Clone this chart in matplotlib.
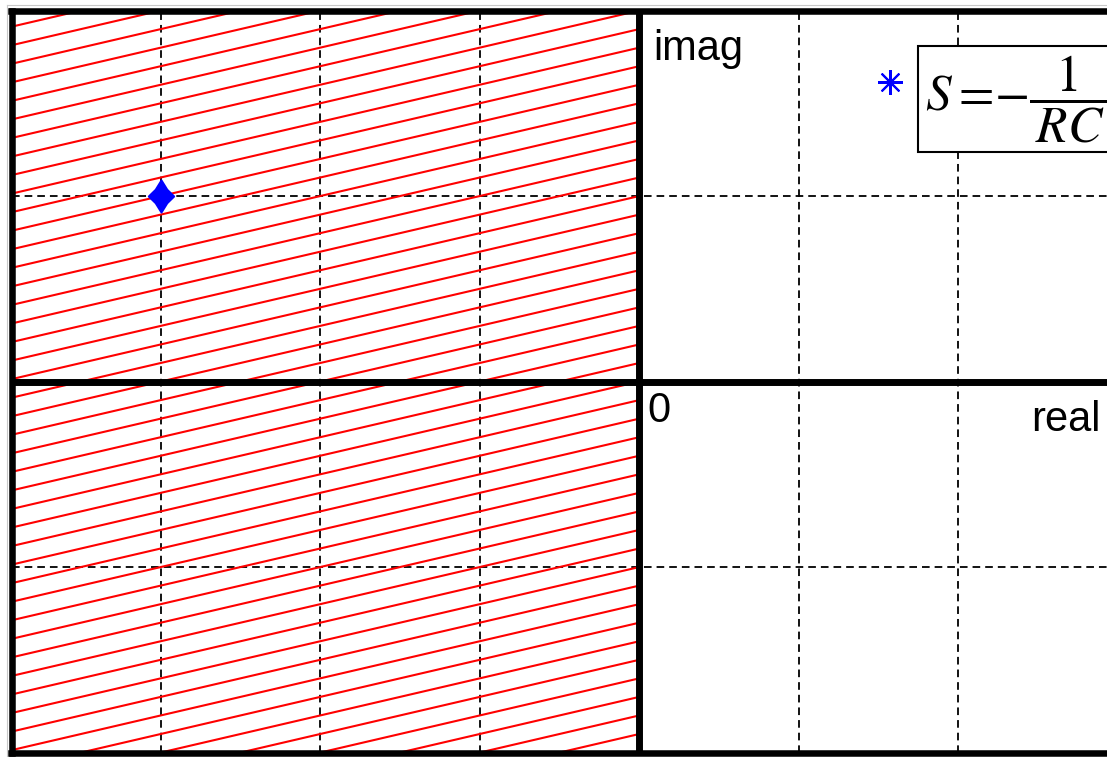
import numpy as np
import matplotlib
matplotlib.use('Agg')
import matplotlib.pyplot as plt
from matplotlib.path import Path

plt.rcParams['mathtext.fontset'] = 'stix'
plt.rcParams['lines.scale_dashes'] = False
plt.rcParams['font.family'] = ['Liberation Sans', 'DejaVu Sans']

# ---- data ----
pole_real = [-3.0]
pole_imag = [1.0]
legend_marker_x = [1.57]
legend_marker_y = [1.615]
x_limits = (-3.937, 3.0)
y_limits = (-2.0, 2.0)
grid_x = [-3, -2, -1, 1, 2]
grid_y = [-1, 1]
hatch_slope = 0.2
hatch_step = 0.1
hatch_x = [-4.0, 0.0]
hatch_offsets = np.round(np.arange(-2.0, 2.8 + 1e-9, hatch_step), 3)
label_imag = 'imag'
label_real = 'real'
label_zero = '0'
formula = r'$S{=}\!{-}\dfrac{1}{\,RC\,}$'

# ---- figure ----
W, H, DPI = 1107, 757, 100
fig = plt.figure(figsize=(W / DPI, H / DPI), dpi=DPI)
fig.patch.set_facecolor('white')
ax = fig.add_axes([11.5 / W, 4.5 / H, (1118 - 11.5) / W, (746.5 - 4.5) / H])
ax.set_xlim(*x_limits)
ax.set_ylim(*y_limits)

# faint outer frame (screenshot edge)
fig.add_artist(plt.Line2D([7 / W, 7 / W], [0, (H - 5) / H], transform=fig.transFigure,
                          color='#c8c8c8', lw=0.8))
fig.add_artist(plt.Line2D([7 / W, 1], [(H - 5) / H, (H - 5) / H], transform=fig.transFigure,
                          color='#c8c8c8', lw=0.8))

# grid
ax.set_xticks(grid_x)
ax.set_yticks(grid_y)
ax.tick_params(length=0, labelbottom=False, labelleft=False)
ax.grid(True, color='black', linestyle=(0, (5.5, 3.6)), linewidth=1.3)
ax.set_axisbelow(True)

# hatching of left half plane
for c in hatch_offsets:
    ax.plot(hatch_x, [hatch_slope * x + c for x in hatch_x], color='red', lw=1.5, zorder=2)

# axes lines
ax.axhline(0, color='black', lw=5, zorder=4)
ax.axvline(0, color='black', lw=5, zorder=4)

for s in ax.spines.values():
    s.set_linewidth(4.7)
    s.set_zorder(6)

# pole marker
verts = [(0, 1), (0.36, 0.42), (0.79, 0), (0.36, -0.42), (0, -1), (-0.36, -0.42), (-0.79, 0), (-0.36, 0.42), (0, 1)]
codes = [Path.MOVETO] + [Path.LINETO] * 7 + [Path.CLOSEPOLY]
diamond = Path(verts, codes)
ax.plot(pole_real, pole_imag, linestyle='none', marker=diamond, markersize=23,
        color='blue', markeredgecolor='blue', mew=1.5, zorder=7)

# legend-like asterisk + formula box
ax.plot(legend_marker_x, legend_marker_y, linestyle='none', marker=(8, 2, 0),
        markersize=18, color='blue', mew=1.5, zorder=7)
ax.text(1.793, 1.523, formula, fontsize=37, ha='left', va='center', zorder=8,
        bbox=dict(boxstyle='square,pad=0.15', fc='white', ec='black', lw=1.5))

# labels
ax.text(0.085, 1.733, label_imag, fontsize=30, va='baseline', ha='left', zorder=8)
ax.text(0.047, -0.218, label_zero, fontsize=30, va='baseline', ha='left', zorder=8)
ax.text(2.455, -0.267, label_real, fontsize=30, va='baseline', ha='left', zorder=8)

fig.savefig('out.png', dpi=DPI)
